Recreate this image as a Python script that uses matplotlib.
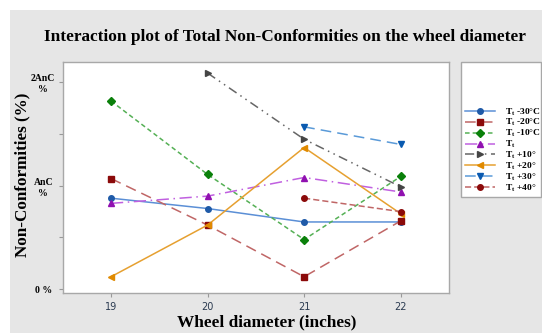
import matplotlib
matplotlib.use("Agg")
import matplotlib.pyplot as plt
from matplotlib.patches import Rectangle

# wheel diameters (inches)
diam = [19, 20, 21, 22]

# values in units of AnC
t_m30 = [0.88, 0.78, 0.65, 0.65]
t_m20 = [1.07, 0.62, 0.12, 0.66]
t_m10 = [1.82, 1.11, 0.48, 1.09]
t_0 = [0.83, 0.90, 1.08, 0.94]
t_p10 = [None, 2.09, 1.45, 0.99]
t_p20 = [0.12, 0.62, 1.37, 0.73]
t_p30 = [None, None, 1.57, 1.40]
t_p40 = [None, None, 0.88, 0.75]

labels = ["T$_\\mathregular{t}$ -30°C", "T$_\\mathregular{t}$ -20°C", "T$_\\mathregular{t}$ -10°C",
          "T$_\\mathregular{t}$", "T$_\\mathregular{t}$ +10°", "T$_\\mathregular{t}$ +20°",
          "T$_\\mathregular{t}$ +30°", "T$_\\mathregular{t}$ +40°"]
ytick_vals = [0, 1, 2]
ytick_labels = ["0 %", "AnC\n%", "2AnC\n%"]


def pts(vals):
    xs = [d for d, v in zip(diam, vals) if v is not None]
    ys = [v for v in vals if v is not None]
    return xs, ys


def main():
    fig = plt.figure(figsize=(5.42, 3.33), dpi=100)
    fig.patch.set_facecolor("white")
    fig.patches.append(Rectangle((10 / 542, 0), 1, 1 - 10 / 333, transform=fig.transFigure,
                                 facecolor="#e6e6e6", edgecolor="none", zorder=-10))

    ax = fig.add_axes([0.1157, 0.1192, 0.8284 - 0.1157, 0.8147 - 0.1192])
    ax.set_facecolor("white")

    styles = [
        (t_m30, "#5b8fd6", "-", "o", "#1f5aa8", 4),
        (t_m20, "#c06666", (0, (7, 4)), "s", "#8b0a0a", 4),
        (t_m10, "#55b055", (0, (3, 2)), "D", "#0a800a", 4),
        (t_0, "#c060e0", (0, (8, 3, 1, 3)), "^", "#9010b0", 5),
        (t_p10, "#666666", (0, (6, 3, 1, 3, 1, 3)), ">", "#454545", 5),
        (t_p20, "#e6a030", "-", "<", "#e08a00", 5),
        (t_p30, "#5a9ad8", (0, (7, 4)), "v", "#0a5ab0", 5),
        (t_p40, "#c06666", (0, (4, 2)), "o", "#8b0a0a", 4),
    ]
    for (vals, lc, ls, mk, mc, ms), lab in zip(styles, labels):
        xs, ys = pts(vals)
        ax.plot(xs, ys, color=lc, linestyle=ls, linewidth=1.1, marker=mk,
                markerfacecolor=mc, markeredgecolor=mc, markersize=ms, label=lab)

    ax.set_xlim(18.5, 22.5)
    ax.set_ylim(-0.04, 2.2)
    ax.set_xticks(diam)
    ax.set_xticklabels([str(d) for d in diam], fontsize=7, color="#2a3a50",
                       fontfamily="DejaVu Sans")
    ax.set_yticks(ytick_vals)
    ax.set_yticklabels(ytick_labels, fontsize=7, fontfamily="Liberation Serif",
                       fontweight="bold", linespacing=1.3)
    for t in ax.get_yticklabels():
        t.set_horizontalalignment("center")
    ax.tick_params(axis="y", pad=11)
    ax.set_yticks([0.5, 1.5], minor=True)
    ax.tick_params(which="both", direction="out", length=3, color="#999999", width=0.8)
    for s in ax.spines.values():
        s.set_color("#a8a8a8")
        s.set_linewidth(1.0)

    fig.text(285 / 542, 1 - 37 / 333, "Interaction plot of Total Non-Conformities on the wheel diameter",
             ha="center", va="center", fontsize=12.4, fontweight="bold", fontfamily="Liberation Serif")
    fig.text(22 / 542, 1 - 175 / 333, "Non-Conformities (%)", rotation=90, ha="center", va="center",
             fontsize=12.3, fontweight="bold", fontfamily="Liberation Serif")
    fig.text(267 / 542, 1 - 322 / 333, "Wheel diameter (inches)", ha="center", va="center",
             fontsize=12.4, fontweight="bold", fontfamily="Liberation Serif")

    # legend box
    fig.patches.append(Rectangle((461 / 542, 1 - 197 / 333), 80 / 542, 135 / 333,
                                 transform=fig.transFigure, facecolor="white",
                                 edgecolor="#a8a8a8", linewidth=1.0))
    handles, labs = ax.get_legend_handles_labels()
    fig.legend(handles, labs, loc="lower left", bbox_to_anchor=(464 / 542, 1 - 195 / 333),
               frameon=False, prop={"family": "Liberation Serif", "weight": "bold", "size": 6.8},
               handlelength=3.2, handletextpad=1.0, labelspacing=-0.06, borderpad=0.1,
               borderaxespad=0)

    fig.savefig("out.png", dpi=100)


if __name__ == "__main__":
    main()
